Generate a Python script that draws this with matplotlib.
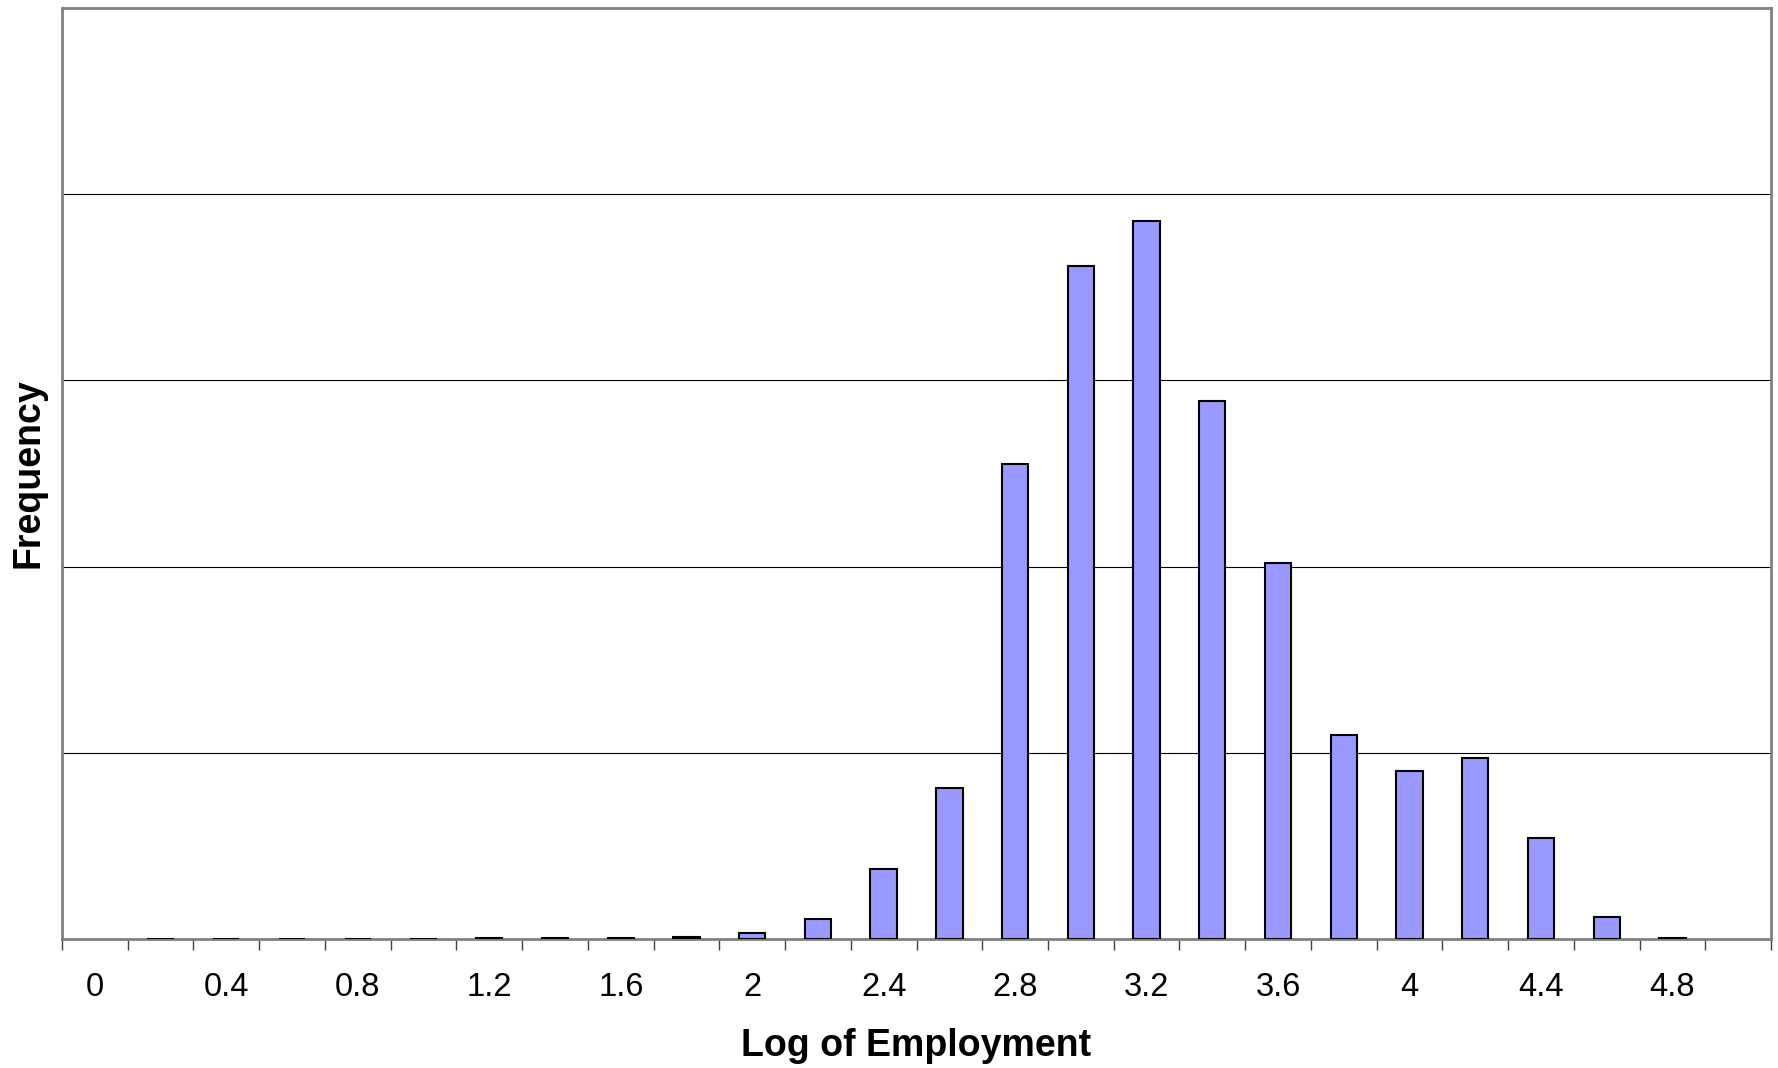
import numpy as np
import matplotlib
matplotlib.use("Agg")
import matplotlib.pyplot as plt

## ************      data       *********************
categories = [0, 0.2, 0.4, 0.6, 0.8, 1, 1.2, 1.4, 1.6, 1.8, 2, 2.2, 2.4,
              2.6, 2.8, 3, 3.2, 3.4, 3.6, 3.8, 4, 4.2, 4.4, 4.6, 4.8, 5]
frequency = [0, 0.2, 0.2, 0.2, 0.2, 0.2, 0.3, 0.4, 0.6, 1.2, 3.4, 10.5, 37.6,
             81, 255, 361.4, 385.8, 288.7, 201.8, 109.4, 90.2, 97.0, 54.2, 12.0, 0.6, 0]
tick_labels = ["0", "0.4", "0.8", "1.2", "1.6", "2", "2.4", "2.8", "3.2",
               "3.6", "4", "4.4", "4.8"]

plt.rcParams["font.family"] = ["Liberation Sans", "DejaVu Sans"]

fig = plt.figure(figsize=(17.78, 10.68), dpi=100)
ax = fig.add_axes([62/1778, 1-939/1068, (1771-62)/1778, (939-8)/1068])

x = np.arange(len(categories))
freq = np.array(frequency)
keep = freq > 0  # empty classes get no bar outline
ax.bar(x[keep], freq[keep], width=0.4, color="#9999FF", edgecolor="black", linewidth=1.5, zorder=3)

ax.set_xlim(-0.5, len(categories)-0.5)
ax.set_ylim(0, 500)
ax.set_yticks([0, 100, 200, 300, 400, 500])
ax.set_yticklabels([])
ax.tick_params(axis="y", length=0)
ax.grid(axis="y", color="black", linewidth=0.8, zorder=0)

# tick marks between categories, labels on every other category
ax.set_xticks(np.arange(-0.5, len(categories)+0.5, 1))
ax.set_xticklabels([])
ax.tick_params(axis="x", which="major", length=8, width=1, color="#404040")
ax.set_xticks(x[::2], minor=True)
ax.set_xticklabels(tick_labels, minor=True, fontsize=23.5)
ax.tick_params(axis="x", which="minor", length=0, pad=24)

for s in ax.spines.values():
    s.set_color("#808080")
    s.set_linewidth(2)

ax.set_xlabel("Log of Employment", fontsize=27, fontweight="bold", labelpad=18)
ax.set_ylabel("Frequency", fontsize=27, fontweight="bold", labelpad=8)

fig.savefig("out.png", dpi=100)
